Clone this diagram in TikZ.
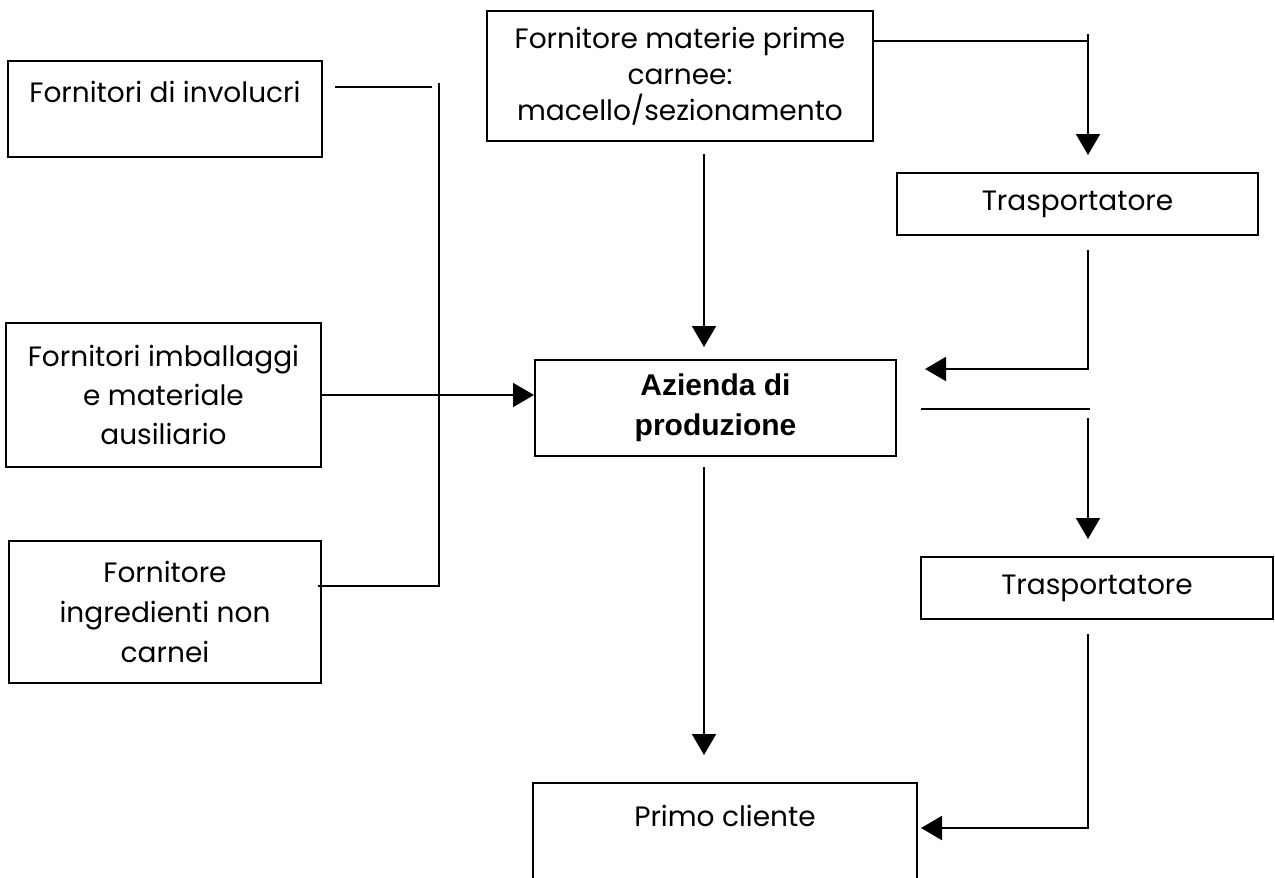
\documentclass[tikz,border=0pt]{standalone}
\usepackage{fontspec}
\setmainfont{Poppins}
\newfontfamily\arialfont{Liberation Sans}
\usetikzlibrary{arrows.meta}
\begin{document}
\begin{tikzpicture}[x=0.5pt,y=-0.5pt,
  box/.style={draw, line width=1pt, rectangle, inner sep=0pt, align=center,
    font=\fontsize{14}{19}\selectfont},
  con/.style={line width=1pt},
  arr/.style={line width=1pt, -{Triangle[length=10.5pt,width=12pt]}}]
\clip (0,0) rectangle (1275,878);
\fill[white] (0,0) rectangle (1275,878);
% boxes
\node[box, minimum width=157pt, minimum height=48pt,
  label={[anchor=center, yshift=-16pt, font=\fontsize{14}{19}\selectfont]north:Fornitori di involucri}]
  (inv) at (165,109) {};
\node[box, minimum width=193pt, minimum height=65pt, font=\fontsize{14}{18}\selectfont]
  (mat) at (680,76) {Fornitore materie prime\\carnee:\\macello/sezionamento};
\node[box, minimum width=180.5pt, minimum height=31pt] (tr1) at (1077.5,204) {Trasportatore};
\node[box, minimum width=157.5pt, minimum height=72pt, font=\fontsize{14}{19.5}\selectfont]
  (imb) at (163.5,395) {Fornitori imballaggi\\e materiale\\ausiliario};
\node[box, minimum width=180.5pt, minimum height=48pt, font=\arialfont\bfseries\fontsize{15}{20}\selectfont]
  (az) at (715.5,408) {Azienda di\\produzione};
\node[box, minimum width=156pt, minimum height=71pt, font=\fontsize{14}{20}\selectfont]
  (ing) at (165,612) {Fornitore\\ingredienti non\\carnei};
\node[box, minimum width=176pt, minimum height=31pt] (tr2) at (1097,588) {Trasportatore};
\node[box, minimum width=192pt, minimum height=56pt,
  label={[anchor=center, yshift=-17pt, font=\fontsize{14}{19}\selectfont]north:Primo cliente}]
  (pc) at (725,839) {};
% coordinates
\coordinate (a1) at (335,87);
\coordinate (a2) at (432,87);
\coordinate (v1) at (439,83);
\coordinate (v2) at (439,586);
\coordinate (v3) at (318,586);
\coordinate (m1) at (704,154);
\coordinate (m2) at (704,347);
\coordinate (r1) at (1088,41);
\coordinate (r0) at (1088,34);
\coordinate (r2) at (1088,155);
\coordinate (t1) at (1088,250);
\coordinate (t2) at (1088,369);
\coordinate (t3) at (925,369);
\coordinate (h1) at (921,409);
\coordinate (h2) at (1090,409);
\coordinate (d1) at (1088,418);
\coordinate (d2) at (1088,539);
\coordinate (p1) at (704,467);
\coordinate (p2) at (704,755);
\coordinate (s1) at (1088,634);
\coordinate (s2) at (1088,828);
\coordinate (s3) at (921,828);
% connectors
\draw[con] (a1) -- (a2);
\draw[con] (v1) -- (v2) -- (v3);
\draw[arr] (imb.east) -- (imb.east -| az.west);
\draw[arr] (m1) -- (m2);
\draw[con] (mat.east |- r1) -- (r1);
\draw[arr] (r0) -- (r2);
\draw[arr] (t1) -- (t2) -- (t3);
\draw[con] (h1) -- (h2);
\draw[arr] (d1) -- (d2);
\draw[arr] (p1) -- (p2);
\draw[arr] (s1) -- (s2) -- (s3);
\end{tikzpicture}
\end{document}
